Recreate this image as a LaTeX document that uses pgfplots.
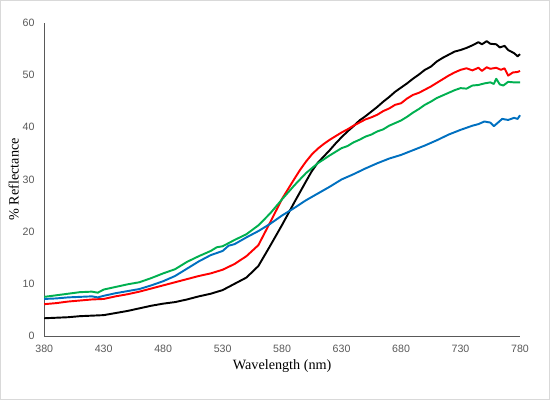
\documentclass[border=0pt]{standalone}
\usepackage{fontspec}
\setmainfont{Liberation Serif}
\newfontfamily\arial{Liberation Sans}
\usepackage{pgfplots}
\pgfplotsset{compat=1.18}
\definecolor{xlgreen}{RGB}{0,176,80}
\definecolor{xlblue}{RGB}{0,112,192}
\definecolor{axgray}{RGB}{89,89,89}
\definecolor{frame}{RGB}{217,217,217}
\begin{document}
\begin{tikzpicture}[x=1bp,y=1bp]
\draw[frame, line width=1bp] (-43,-62) rectangle (497,330);
\begin{axis}[
  at={(0,0)}, anchor=south west,
  scale only axis, width=468bp, height=308bp,
  xmin=380, xmax=780, ymin=0, ymax=60,
  xtick={380,430,...,780}, ytick={0,10,...,60},
  axis x line=bottom, axis y line=left,
  axis line style={axgray, line width=0.8bp, -},
  major tick length=0pt,
  /pgf/number format/assume math mode=true,
  /pgf/number format/1000 sep={},
  tick label style={font=\arial\fontsize{10.5}{12}\selectfont, text=axgray},
  xticklabel style={yshift=-5bp},
  yticklabel style={xshift=-6bp},
  xlabel={Wavelength (nm)}, ylabel={\% Reflectance},
  every axis x label/.style={at={(axis description cs:0.5,-0.097)}, anchor=center, font=\fontsize{14}{16}\selectfont},
  every axis y label/.style={at={(axis description cs:-0.064,0.5)}, anchor=center, rotate=90, font=\fontsize{14}{16}\selectfont},
  clip=false,
  every axis plot/.append style={line width=1.9bp, line join=round},
]
% black
\addplot[black] coordinates {
(380,3.4)(390,3.5)(400,3.6)(410,3.8)(420,3.9)(430,4.0)(440,4.4)(450,4.8)(460,5.3)(470,5.8)(480,6.2)(490,6.5)(500,7.0)(510,7.6)(520,8.1)(530,8.8)(540,10.0)(550,11.2)(560,13.4)(570,17.3)(580,21.3)(590,25.5)(600,29.6)(605,31.6)(610,33.2)(615,34.4)(620,35.6)(625,36.9)(630,38.1)(635,39.2)(640,40.2)(645,41.3)(650,42.1)(655,43.0)(660,43.9)(665,44.9)(670,45.8)(675,46.8)(680,47.6)(685,48.4)(690,49.3)(695,50.1)(700,51.0)(705,51.6)(710,52.6)(715,53.3)(720,53.9)(725,54.5)(730,54.8)(735,55.2)(740,55.7)(745,56.3)(748,55.9)(752,56.5)(755,56.0)(760,55.9)(763,55.3)(767,55.6)(770,54.8)(775,54.2)(778,53.6)(780,54.0)
};
% red
\addplot[red] coordinates {
(380,6.1)(390,6.3)(400,6.6)(410,6.8)(420,7.0)(430,7.1)(440,7.6)(450,8.0)(460,8.5)(470,9.1)(480,9.7)(490,10.3)(500,10.9)(510,11.5)(520,12.0)(530,12.7)(540,13.8)(550,15.3)(560,17.4)(570,21.8)(580,26.3)(590,30.0)(595,31.8)(600,33.4)(605,34.8)(610,35.9)(615,36.8)(620,37.6)(625,38.3)(630,39.0)(635,39.6)(640,40.3)(645,40.9)(650,41.5)(655,41.9)(660,42.4)(665,43.1)(670,43.6)(675,44.3)(680,44.6)(685,45.5)(690,46.2)(695,46.6)(700,47.2)(705,47.8)(710,48.5)(715,49.2)(720,49.9)(725,50.5)(730,51.0)(735,51.3)(740,50.9)(745,51.4)(748,50.8)(752,51.5)(755,51.2)(760,51.4)(764,51.0)(767,51.3)(770,49.9)(774,50.5)(778,50.6)(780,50.8)
};
% green
\addplot[xlgreen] coordinates {
(380,7.5)(390,7.8)(400,8.1)(410,8.4)(420,8.5)(425,8.3)(430,8.9)(440,9.4)(450,9.9)(460,10.3)(470,11.1)(480,12.0)(490,12.8)(500,14.2)(510,15.3)(520,16.3)(525,17.0)(530,17.2)(540,18.4)(550,19.5)(560,21.2)(570,23.5)(580,26.2)(590,28.8)(600,31.2)(610,33.1)(620,34.6)(630,36.0)(635,36.4)(640,37.1)(645,37.6)(650,38.2)(655,38.6)(660,39.2)(665,39.6)(670,40.3)(675,40.8)(680,41.3)(685,42.0)(690,42.8)(695,43.5)(700,44.3)(705,44.9)(710,45.6)(715,46.1)(720,46.6)(725,47.1)(730,47.5)(735,47.4)(740,48.0)(745,48.1)(750,48.4)(755,48.6)(758,48.3)(760,49.3)(763,48.2)(766,48.0)(770,48.7)(775,48.6)(780,48.6)
};
% blue
\addplot[xlblue] coordinates {
(380,7.1)(390,7.2)(400,7.4)(410,7.5)(420,7.6)(425,7.4)(430,7.7)(440,8.2)(450,8.6)(460,9.0)(470,9.7)(480,10.5)(490,11.5)(500,12.9)(510,14.3)(520,15.5)(530,16.3)(535,17.3)(540,17.6)(550,18.9)(560,20.1)(570,21.5)(580,23.1)(590,24.5)(600,26.0)(610,27.3)(620,28.6)(630,30.0)(640,31.0)(650,32.1)(660,33.1)(670,34.0)(680,34.7)(690,35.6)(700,36.5)(710,37.5)(720,38.6)(730,39.5)(740,40.3)(745,40.6)(750,41.1)(755,40.9)(758,40.2)(762,41.0)(765,41.6)(770,41.4)(775,41.8)(778,41.6)(780,42.3)
};
\end{axis}
\end{tikzpicture}
\end{document}
